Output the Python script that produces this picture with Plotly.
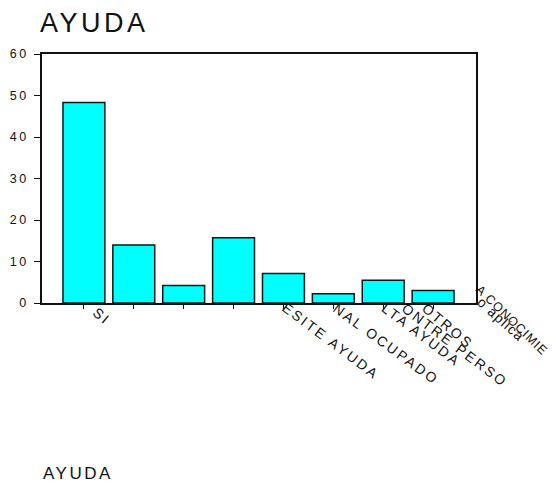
import plotly.graph_objects as go

# Data (percentages)
categories = [0, 1, 2, 3, 4, 5, 6, 7]
values = [48.3, 14.0, 4.2, 15.7, 7.1, 2.2, 5.5, 3.0]

# visible (clipped) category labels as they appear in the reference
label_text = ["SI", "ESITE AYUDA", "NAL OCUPADO", "LTA AYUDA", "ONTRE PERSO",
              "OTROS", "A CONOCIMIE", "o aplica"]
label_x = [0.06, 3.86, 4.88, 5.86, 6.26, 6.66, 7.74, 7.76]
label_shift = [2, 6, 6, 6, 6, 6, 24, 12]
label_angle = [40, 37, 36, 37, 37, 40, 44, 42]
label_spacing = [2.4, 2.4, 2.4, 2.4, 2.4, 2.4, 1.0, 1.2]
label_size = [14, 14, 14, 14, 14, 14, 12.5, 14]

y_ticks = [0, 10, 20, 30, 40, 50, 60]

FONT = "Liberation Sans, Arial, sans-serif"

# the page body has an 8px default margin, so the figure is sized to fit
W, H = 548, 475

fig = go.Figure()
fig.add_trace(go.Bar(
    x=categories, y=values,
    marker=dict(color="#00FFFF", line=dict(color="#0a1a1a", width=1.5)),
    width=0.84,
    hoverinfo="y",
))

annotations = []
for t, xv, ys, ang, sp, fs in zip(label_text, label_x, label_shift, label_angle,
                                  label_spacing, label_size):
    annotations.append(dict(
        x=xv, y=0, xref="x", yref="y", yshift=ys,
        text='<span style="letter-spacing:%.1fpx">%s</span>' % (sp, t),
        showarrow=False, textangle=ang,
        xanchor="left", yanchor="top",
        font=dict(family=FONT, size=fs, color="#111"),
    ))

# bottom caption
annotations.append(dict(
    x=0, y=0, xref="paper", yref="paper", xshift=-1, yshift=-170,
    text='<span style="letter-spacing:2.5px">AYUDA</span>', showarrow=False,
    xanchor="left", yanchor="middle",
    font=dict(family=FONT, size=17, color="#111"),
))

fig.update_layout(
    width=W, height=H,
    margin=dict(l=34, r=80, t=46, b=180, pad=0, autoexpand=False),
    paper_bgcolor="white", plot_bgcolor="white",
    font=dict(family=FONT, color="#111"),
    showlegend=False,
    title=dict(
        text='<span style="letter-spacing:3.5px">AYUDA</span>',
        x=32 / W, xanchor="left", y=1 - 5 / H, yanchor="top",
        font=dict(family=FONT, size=27, color="#111"),
    ),
    xaxis=dict(
        range=[-0.84, 7.86], tickmode="array", tickvals=categories,
        ticktext=[""] * len(categories),
        ticks="outside", ticklen=4, tickwidth=1, tickcolor="#111",
        showline=True, linecolor="#111", linewidth=1.5, mirror=True,
        showgrid=False, zeroline=False, fixedrange=True, automargin=False,
    ),
    yaxis=dict(
        range=[0, 60], tickmode="array", tickvals=y_ticks,
        ticktext=['<span style="letter-spacing:2.5px">%d</span>' % v for v in y_ticks],
        ticks="outside", ticklen=6, tickwidth=1, tickcolor="#111",
        showline=True, linecolor="#111", linewidth=1.5, mirror=True,
        showgrid=False, zeroline=False, automargin=False,
        tickfont=dict(family=FONT, size=12.5, color="#111"),
        ticklabelstandoff=3,
    ),
    annotations=annotations,
)

fig.write_html("out.html")
